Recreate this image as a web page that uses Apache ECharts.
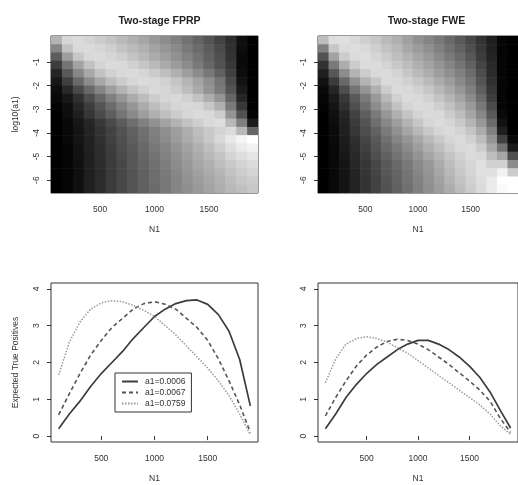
<!DOCTYPE html>
<html>
<head>
<meta charset="utf-8">
<script src="https://cdn.jsdelivr.net/npm/echarts@6/dist/echarts.min.js"></script>
<style>
html,body{margin:0;padding:0;background:#fff;}
#main{width:518px;height:485px;}
</style>
</head>
<body>
<div id="main"></div>
<script>
// grid of the two image plots
const n1 = [100,200,300,400,500,600,700,800,900,1000,1100,1200,1300,1400,1500,1600,1700,1800,1900];
const logA1 = [-0.07,-0.42,-0.77,-1.12,-1.47,-1.82,-2.17,-2.52,-2.87,-3.22,-3.57,-3.92,-4.27,-4.62,-4.97,-5.32,-5.67,-6.02,-6.37];
const n1Ticks = [500, 1000, 1500];
const logTicks = [-1, -2, -3, -4, -5, -6];
const tpTicks = [0, 1, 2, 3, 4];
const a1Names = ['a1=0.0006', 'a1=0.0067', 'a1=0.0759'];

const fprpGrid = [
  [70,84,86,83,80,77,73,69,65,60,55,50,45,39,33,26,18,6,0],
  [52,76,85,86,84,81,77,73,69,64,59,54,48,42,36,29,19,5,0],
  [36,62,78,85,86,84,81,77,72,67,62,57,51,45,38,31,20,4,0],
  [24,46,64,76,83,86,85,82,78,73,67,61,55,48,40,32,22,4,0],
  [14,35,53,66,76,82,85,86,84,80,75,69,62,55,47,38,25,5,0],
  [9,25,41,55,66,74,80,84,86,85,82,77,71,64,56,46,29,7,0],
  [5,16,29,41,52,62,70,77,82,85,84,80,74,67,58,48,33,10,0],
  [3,9,19,30,40,50,59,67,74,80,84,85,82,76,68,58,40,15,0],
  [1,6,15,24,33,42,51,59,67,74,80,84,85,84,78,69,48,22,0],
  [0,5,12,21,29,37,46,54,62,69,75,80,84,86,85,80,58,32,2],
  [0,3,9,15,22,29,36,43,50,57,64,70,76,81,85,87,72,50,10],
  [0,3,8,14,20,26,32,38,44,50,56,62,68,74,79,83,86,72,40],
  [0,3,8,13,19,25,31,37,43,49,55,61,67,73,79,85,91,96,100],
  [0,2,7,13,18,24,30,35,41,47,52,58,64,69,75,81,87,92,95],
  [0,2,7,12,18,23,29,34,40,45,51,56,62,67,72,77,83,87,90],
  [0,2,6,12,17,23,28,34,39,44,49,55,60,65,69,74,79,83,86],
  [0,2,6,12,17,23,28,33,38,43,48,53,58,63,67,71,76,80,83],
  [0,2,6,12,17,23,28,33,38,43,47,52,57,61,65,69,74,78,80],
  [0,2,6,12,17,23,28,33,38,42,47,52,56,60,64,68,72,75,78]
];
const fweGrid = [
  [74,87,88,85,81,78,73,69,63,57,52,47,41,35,28,20,12,2,0],
  [50,78,86,87,85,81,76,72,66,61,56,50,44,38,31,22,13,2,0],
  [32,64,80,86,87,84,80,75,70,65,60,54,48,42,34,24,14,2,0],
  [20,48,68,80,86,86,83,79,74,69,64,58,52,46,38,27,16,2,0],
  [12,34,55,70,80,85,86,83,78,73,68,62,56,50,42,30,17,2,0],
  [7,23,41,57,70,78,86,85,82,78,73,67,61,54,46,33,19,2,0],
  [4,15,30,45,58,69,80,86,85,82,78,72,66,59,50,37,21,2,0],
  [2,10,22,35,48,60,72,82,86,85,82,77,71,64,55,42,24,2,0],
  [1,8,19,31,43,55,66,76,83,86,85,81,76,69,60,47,29,2,0],
  [0,6,15,26,37,48,59,69,77,83,86,85,80,74,65,53,35,4,0],
  [0,5,13,23,33,43,53,62,70,78,84,86,84,79,71,60,42,7,0],
  [0,4,12,21,30,39,48,57,65,72,79,84,86,83,77,67,50,12,0],
  [0,4,11,19,27,35,44,52,59,66,73,79,84,86,82,74,58,25,3],
  [0,3,10,17,25,33,41,48,55,62,69,75,81,85,86,80,66,45,10],
  [0,3,9,16,23,31,38,45,51,58,65,71,77,82,86,85,74,65,30],
  [0,3,8,15,21,28,35,41,47,54,60,67,74,80,84,88,82,82,55],
  [0,3,8,14,21,27,34,40,46,52,58,65,72,78,83,88,88,95,80],
  [0,3,8,14,20,26,33,39,45,51,57,63,70,76,82,87,92,100,100],
  [0,3,8,14,20,26,32,38,44,50,56,62,68,74,80,86,92,98,100]
];

// expected true positives against N1
const fprp0006 = [0.2,0.6,0.95,1.35,1.7,2.0,2.3,2.65,2.95,3.25,3.45,3.6,3.68,3.7,3.58,3.3,2.85,2.08,0.82];
const fprp0067 = [0.58,1.15,1.7,2.2,2.6,2.95,3.2,3.45,3.6,3.65,3.58,3.45,3.2,2.95,2.6,2.1,1.5,0.85,0.1];
const fprp0759 = [1.66,2.55,3.1,3.45,3.62,3.68,3.65,3.55,3.42,3.25,3.0,2.75,2.45,2.15,1.85,1.5,1.1,0.6,0.03];
const fwe0006 = [0.2,0.6,1.05,1.4,1.7,1.95,2.15,2.35,2.5,2.6,2.6,2.5,2.35,2.15,1.9,1.6,1.2,0.7,0.22];
const fwe0067 = [0.55,1.05,1.5,1.9,2.2,2.42,2.57,2.63,2.6,2.5,2.35,2.15,1.95,1.72,1.5,1.25,0.95,0.48,0.1];
const fwe0759 = [1.45,2.1,2.5,2.65,2.7,2.65,2.55,2.4,2.25,2.05,1.85,1.65,1.45,1.25,1.05,0.85,0.6,0.28,0.05];

const font = '"Liberation Sans", Arial, sans-serif';
const ink = '#333';
const halfX = (n1[1] - n1[0]) / 2;
const halfY = (logA1[0] - logA1[1]) / 2;

function cells(grid) {
  const out = [];
  grid.forEach((row, i) => row.forEach((v, j) => out.push([n1[j], logA1[i], v])));
  return out;
}
function pairs(vals) {
  return vals.map((v, i) => [n1[i], v]);
}
function renderCell(params, api) {
  const a = api.coord([api.value(0) - halfX, api.value(1) + halfY]);
  const b = api.coord([api.value(0) + halfX, api.value(1) - halfY]);
  return {
    type: 'rect',
    shape: { x: a[0], y: a[1], width: b[0] - a[0] + 0.6, height: b[1] - a[1] + 0.6 },
    style: { fill: api.visual('color') }
  };
}

const labelStyle = { fontSize: 8.5, color: ink, fontFamily: font };
const plain = v => String(v);
function xAxis(gi, min, max) {
  return {
    type: 'value', gridIndex: gi, min: min, max: max,
    name: 'N1', nameLocation: 'middle', nameGap: 32, nameTextStyle: labelStyle,
    axisLine: { show: false }, splitLine: { show: false },
    axisTick: { show: true, length: 4, lineStyle: { color: ink }, customValues: n1Ticks },
    axisLabel: Object.assign({ customValues: n1Ticks, margin: 12, formatter: plain }, labelStyle)
  };
}
function yAxis(gi, min, max, ticks, name) {
  return {
    type: 'value', gridIndex: gi, min: min, max: max,
    name: name, nameLocation: 'middle', nameGap: 31, nameRotate: 90, nameTextStyle: labelStyle,
    axisLine: { show: false }, splitLine: { show: false },
    axisTick: { show: true, length: 4, lineStyle: { color: ink }, customValues: ticks },
    axisLabel: Object.assign({ customValues: ticks, rotate: 90, margin: 10, formatter: plain }, labelStyle)
  };
}
function lineSeries(name, gi, vals, color, type, width) {
  return {
    type: 'line', name: name, xAxisIndex: gi, yAxisIndex: gi,
    data: pairs(vals), symbol: 'none', silent: true,
    lineStyle: { color: color, type: type, width: width },
    itemStyle: { color: color }
  };
}

const border = { show: true, borderColor: ink, borderWidth: 1, backgroundColor: 'transparent' };
const heatMin = logA1[logA1.length - 1] - halfY;
const heatMax = logA1[0] + halfY;

const chart = echarts.init(document.getElementById('main'), null, { renderer: 'canvas' });
chart.setOption({
  backgroundColor: '#fff',
  animation: false,
  title: [
    { text: 'Two-stage FPRP', left: 154.5, top: 11, textAlign: 'center',
      textStyle: { fontSize: 10.5, fontWeight: 'bold', color: '#222', fontFamily: font } },
    { text: 'Two-stage FWE', left: 421.5, top: 11, textAlign: 'center',
      textStyle: { fontSize: 10.5, fontWeight: 'bold', color: '#222', fontFamily: font } }
  ],
  grid: [
    Object.assign({ left: 51, top: 36, width: 207, height: 157 }, border),
    Object.assign({ left: 318, top: 36, width: 207, height: 157 }, border),
    Object.assign({ left: 51, top: 283, width: 207, height: 159 }, border),
    Object.assign({ left: 318, top: 283, width: 207, height: 159 }, border)
  ],
  xAxis: [xAxis(0, 50, 1950), xAxis(1, 50, 1950), xAxis(2, 28, 1972), xAxis(3, 28, 1972)],
  yAxis: [
    yAxis(0, heatMin, heatMax, logTicks, 'log10(a1)'),
    yAxis(1, heatMin, heatMax, logTicks, ''),
    yAxis(2, -0.16, 4.16, tpTicks, 'Expected True Positives'),
    yAxis(3, -0.16, 4.16, tpTicks, '')
  ],
  visualMap: [
    { type: 'continuous', show: false, seriesIndex: 0, dimension: 2, min: 0, max: 100,
      inRange: { color: ['#000000', '#ffffff'] } },
    { type: 'continuous', show: false, seriesIndex: 1, dimension: 2, min: 0, max: 100,
      inRange: { color: ['#000000', '#ffffff'] } }
  ],
  legend: {
    data: a1Names, left: 115, top: 373, orient: 'vertical',
    itemWidth: 16, itemHeight: 8, itemGap: 2, padding: [4, 6, 4, 6],
    borderColor: ink, borderWidth: 1, selectedMode: false,
    itemStyle: { opacity: 0 },
    textStyle: { fontSize: 8.5, color: ink, fontFamily: font, padding: [0, 0, 0, 2] }
  },
  series: [
    { type: 'custom', xAxisIndex: 0, yAxisIndex: 0, data: cells(fprpGrid), renderItem: renderCell,
      encode: { x: 0, y: 1 }, clip: true, silent: true },
    { type: 'custom', xAxisIndex: 1, yAxisIndex: 1, data: cells(fweGrid), renderItem: renderCell,
      encode: { x: 0, y: 1 }, clip: true, silent: true },
    lineSeries(a1Names[0], 2, fprp0006, '#3c3c3c', 'solid', 1.7),
    lineSeries(a1Names[1], 2, fprp0067, '#555555', [4, 3], 1.6),
    lineSeries(a1Names[2], 2, fprp0759, '#9a9a9a', [1.5, 1.5], 1.5),
    lineSeries(a1Names[0], 3, fwe0006, '#3c3c3c', 'solid', 1.7),
    lineSeries(a1Names[1], 3, fwe0067, '#555555', [4, 3], 1.6),
    lineSeries(a1Names[2], 3, fwe0759, '#9a9a9a', [1.5, 1.5], 1.5)
  ]
});
</script>
</body>
</html>
